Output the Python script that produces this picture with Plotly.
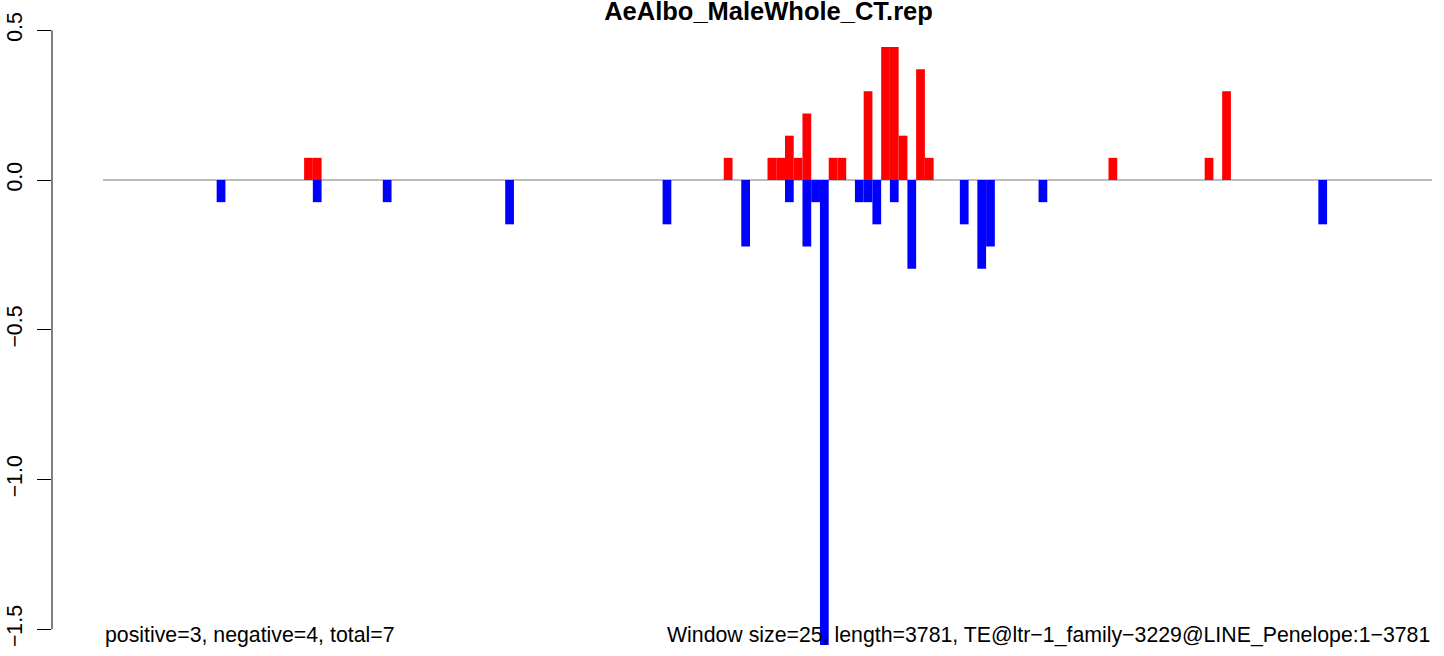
import plotly.graph_objects as go

WIDTH = 1444
HEIGHT = 656

N_WINDOWS = 152

# windows with positive signal (index, value)
pos_idx = [23, 24, 71, 76, 77, 78, 79, 80, 83, 84, 87, 89, 90, 91, 93, 94, 115, 126, 128]
pos_val = [0.074, 0.074, 0.074, 0.074, 0.074, 0.148, 0.074, 0.222, 0.074, 0.074,
           0.296, 0.444, 0.444, 0.148, 0.370, 0.074, 0.074, 0.074, 0.296]

# windows with negative signal (index, value)
neg_idx = [13, 24, 32, 46, 64, 73, 78, 80, 81, 82, 86, 87, 88, 90, 92, 98, 100, 101, 107, 139]
neg_val = [-0.074, -0.074, -0.074, -0.148, -0.148, -0.222, -0.074, -0.222, -0.074, -1.556,
           -0.074, -0.074, -0.148, -0.074, -0.296, -0.148, -0.296, -0.222, -0.074, -0.148]

y_ticks = [-1.5, -1.0, -0.5, 0.0, 0.5]
y_labels = ["\u22121.5", "\u22121.0", "\u22120.5", "0.0", "0.5"]

title = "AeAlbo_MaleWhole_CT.rep"
left_note = "positive=3, negative=4, total=7"
right_note = "Window size=25, length=3781, TE@ltr\u22121_family\u22123229@LINE_Penelope:1\u22123781"

FONT = "Liberation Sans, Arial, Helvetica, sans-serif"
TEXT_SIZE = 21.3

fig = go.Figure()

fig.add_trace(go.Bar(
    x=[i + 0.5 for i in pos_idx], y=pos_val, width=1,
    marker=dict(color="#FF0000", line=dict(width=0)),
))
fig.add_trace(go.Bar(
    x=[i + 0.5 for i in neg_idx], y=neg_val, width=1,
    marker=dict(color="#0000FF", line=dict(width=0)),
))

# baseline across all windows
fig.add_shape(type="line", xref="x", yref="y", x0=0, x1=N_WINDOWS, y0=0, y1=0,
              line=dict(color="#A6A6A6", width=1.7), layer="below")
# R-style y axis line spanning only the tick range
fig.add_shape(type="line", xref="paper", yref="y", x0=0, x1=0,
              y0=min(y_ticks), y1=max(y_ticks), line=dict(color="black", width=1))

fig.add_annotation(text=left_note, xref="x", yref="y", x=0, y=-1.519,
                   xanchor="left", yanchor="middle", showarrow=False,
                   font=dict(size=TEXT_SIZE, color="black", family=FONT))
fig.add_annotation(text=right_note, xref="x", yref="y", x=N_WINDOWS, y=-1.519,
                   xanchor="right", yanchor="middle", showarrow=False,
                   font=dict(size=TEXT_SIZE, color="black", family=FONT))

fig.update_layout(
    title=dict(text="<b>" + title + "</b>", x=768.5 / WIDTH, xanchor="center",
               xref="container", yref="container", y=1 - 11.5 / HEIGHT, yanchor="middle",
               font=dict(size=25.5, color="black", family=FONT)),
    barmode="overlay",
    showlegend=False,
    plot_bgcolor="white",
    paper_bgcolor="white",
    width=WIDTH,
    height=HEIGHT,
    margin=dict(l=52, r=12, t=21, b=11),
    font=dict(family=FONT, color="black", size=TEXT_SIZE),
)

fig.update_xaxes(range=[-51 / 8.743, N_WINDOWS], visible=False, fixedrange=True)
fig.update_yaxes(
    range=[-1.5526, 0.5309],
    tickvals=y_ticks, ticktext=y_labels,
    ticks="outside", ticklen=14, tickwidth=1, tickcolor="black",
    tickangle=-90, showgrid=False, zeroline=False, showline=False,
    ticklabelstandoff=6,
    automargin=False, tickfont=dict(size=TEXT_SIZE, color="black", family=FONT),
)

# drop the default page margin so the figure sits at the window corner
fig.write_html("out.html", config={"displayModeBar": False},
               post_script="document.body.style.margin='0';")
